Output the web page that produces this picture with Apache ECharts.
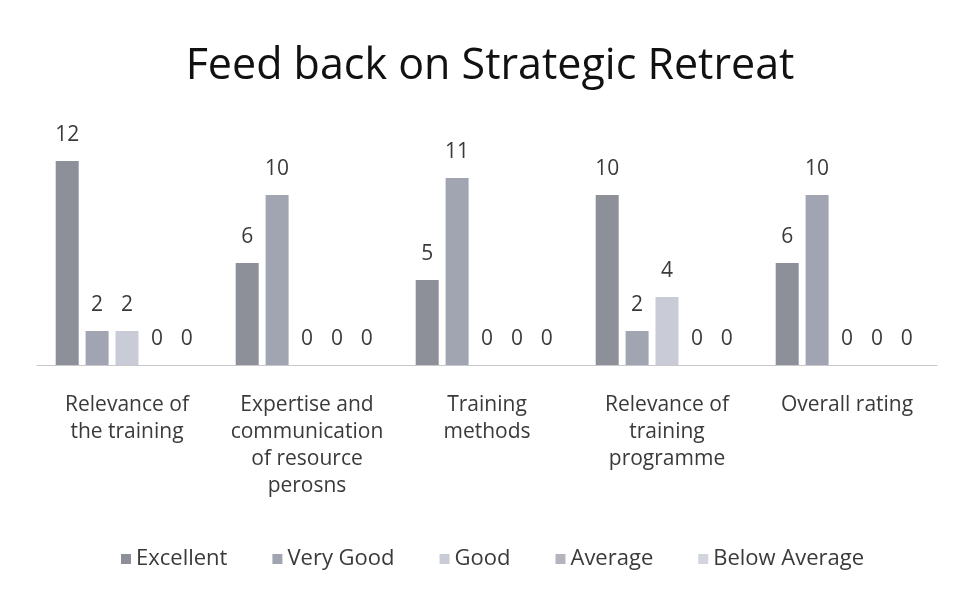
<!DOCTYPE html>
<html>
<head>
<meta charset="utf-8">
<script src="https://cdn.jsdelivr.net/npm/echarts@6/dist/echarts.min.js"></script>
<style>
  html, body { margin: 0; padding: 0; background: #fff; }
  #main { width: 955px; height: 598px; }
</style>
</head>
<body>
<div id="main"></div>
<script>
var categories = [
    'Relevance of\nthe training',
    'Expertise and\ncommunication\nof resource\nperosns',
    'Training\nmethods',
    'Relevance of\ntraining\nprogramme',
    'Overall rating'
];
var seriesNames = ['Excellent', 'Very Good', 'Good', 'Average', 'Below Average'];
var excellent = [12, 6, 5, 10, 6];
var veryGood = [2, 10, 11, 2, 10];
var good = [2, 0, 0, 4, 0];
var average = [0, 0, 0, 0, 0];
var belowAverage = [0, 0, 0, 0, 0];
var seriesColors = ['#8e9099', '#a1a5b2', '#c9ccd7', '#b3b4bd', '#d3d5de'];

var chart = echarts.init(document.getElementById('main'));
var fontName = 'Open Sans';

function makeSeries(name, data, color) {
    return {
        name: name,
        type: 'bar',
        data: data,
        barWidth: 23,
        barGap: '30%',
        itemStyle: { color: color },
        label: {
            show: true,
            position: 'top',
            distance: 15,
            color: '#3a3a3a',
            fontFamily: fontName,
            fontSize: 21
        }
    };
}

var allData = [excellent, veryGood, good, average, belowAverage];
var series = [];
for (var i = 0; i < seriesNames.length; i++) {
    series.push(makeSeries(seriesNames[i], allData[i], seriesColors[i]));
}

var option = {
    backgroundColor: '#ffffff',
    animation: false,
    title: {
        text: 'Feed back on Strategic Retreat',
        left: 485,
        top: 40,
        textAlign: 'center',
        textStyle: {
            fontFamily: fontName,
            fontSize: 43,
            fontWeight: 'normal',
            color: '#111111'
        }
    },
    legend: {
        data: seriesNames,
        bottom: 23,
        left: 116,
        itemGap: 45,
        itemWidth: 10,
        itemHeight: 10,
        icon: 'rect',
        textStyle: {
            fontFamily: fontName,
            fontSize: 22,
            color: '#3a3a3a'
        }
    },
    grid: {
        left: 37,
        right: 18,
        top: 127,
        bottom: 233
    },
    xAxis: {
        type: 'category',
        data: categories,
        axisTick: { show: false },
        axisLine: { lineStyle: { color: '#c8c8cc', width: 1 } },
        axisLabel: {
            interval: 0,
            margin: 27,
            lineHeight: 27,
            fontFamily: fontName,
            fontSize: 21,
            color: '#3a3a3a'
        }
    },
    yAxis: {
        type: 'value',
        min: 0,
        max: 14,
        interval: 2,
        show: false,
        splitLine: { show: false }
    },
    series: series
};

chart.setOption(option);
</script>
</body>
</html>
